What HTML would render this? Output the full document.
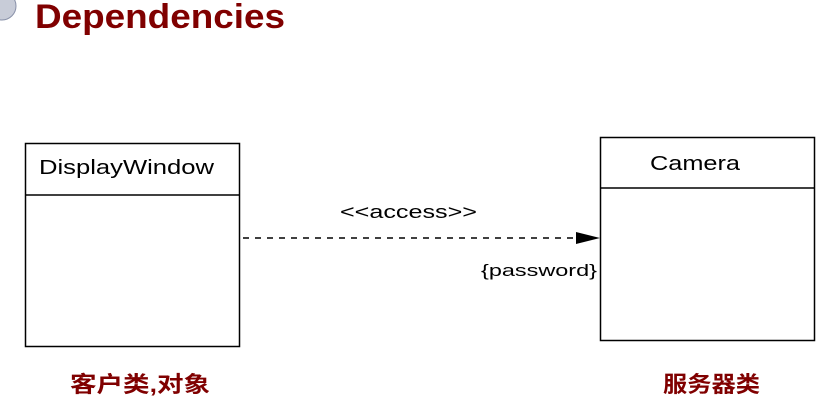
<!DOCTYPE html>
<html><head><style>
body{margin:0;width:826px;height:404px;background:#fff;overflow:hidden;position:relative;font-family:"Liberation Sans",sans-serif}
</style></head><body>
<svg width="826" height="404" style="position:absolute;left:0;top:0">
<circle cx="2" cy="6" r="14" fill="#c8ccd8" stroke="#8890a8"/>
<text x="35" y="28" font-family="Liberation Sans" font-weight="bold" font-size="34" fill="#800000" textLength="250" lengthAdjust="spacingAndGlyphs">Dependencies</text>
<rect x="25.5" y="143.5" width="214" height="203" fill="none" stroke="#000" stroke-width="1.5"/>
<line x1="25" y1="195" x2="239" y2="195" stroke="#000" stroke-width="1.5"/>
<text x="39" y="174" font-size="20" fill="#000" textLength="175" lengthAdjust="spacingAndGlyphs">DisplayWindow</text>
<rect x="600.5" y="137.5" width="214" height="203" fill="none" stroke="#000" stroke-width="1.5"/>
<line x1="600" y1="188" x2="815" y2="188" stroke="#000" stroke-width="1.5"/>
<text x="650" y="170" font-size="20" fill="#000" textLength="90" lengthAdjust="spacingAndGlyphs">Camera</text>
<line x1="243" y1="238" x2="580" y2="238" stroke="#000" stroke-width="1.5" stroke-dasharray="6,6"/>
<polygon points="576,232 600,238 576,244" fill="#000"/>
<text x="340" y="218" font-size="18" fill="#000" textLength="137" lengthAdjust="spacingAndGlyphs">&lt;&lt;access&gt;&gt;</text>
<text x="481" y="276" font-size="17" fill="#000" textLength="116" lengthAdjust="spacingAndGlyphs">{password}</text>
<text x="70" y="392" font-family="Liberation Sans,Noto Sans CJK SC,sans-serif" font-weight="bold" font-size="22" fill="#800000" textLength="140" lengthAdjust="spacingAndGlyphs">客户类,对象</text>
<text x="663" y="392" font-family="Liberation Sans,Noto Sans CJK SC,sans-serif" font-weight="bold" font-size="22" fill="#800000" textLength="97" lengthAdjust="spacingAndGlyphs">服务器类</text>
</svg>
</body></html>
